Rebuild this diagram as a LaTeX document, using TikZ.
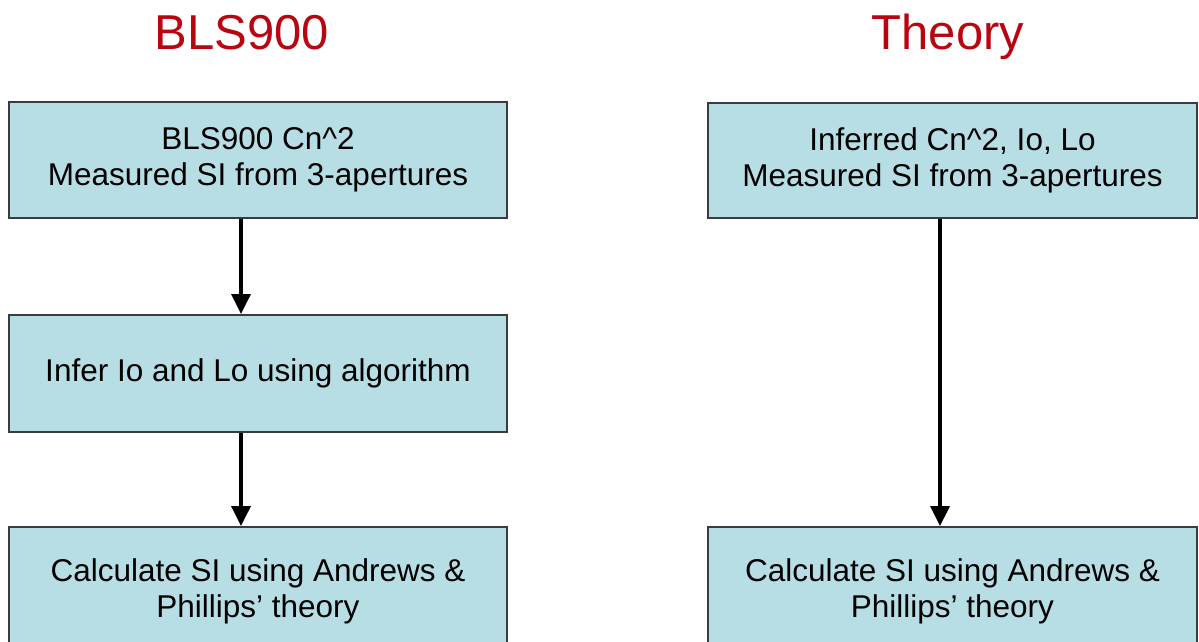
\documentclass[tikz,border=0pt]{standalone}
\usepackage{fontspec}
\setmainfont{Liberation Sans}
\usetikzlibrary{arrows.meta}
\definecolor{boxfill}{RGB}{183,222,228}
\definecolor{boxline}{RGB}{60,60,60}
\definecolor{titlered}{RGB}{185,5,15}
\begin{document}
\begin{tikzpicture}[x=1pt,y=1pt,
  stepbox/.style={draw=boxline, line width=1.8pt, fill=boxfill, rectangle, inner sep=0pt,
    minimum width=498pt, align=center, font=\fontsize{31.5}{36}\selectfont},
  title/.style={text=titlered, font=\fontsize{49}{55}\selectfont, anchor=base, inner sep=0pt},
  arr/.style={line width=3.2pt, -{Triangle[length=20pt,width=19pt]}}]
\useasboundingbox (0,0) rectangle (1199,-642);
\clip (0,0) rectangle (1199,-642);
\fill[white] (0,0) rectangle (1199,-642);
\node[title] (t1) at (242,-50) {BLS900};
\node[title] (t2) at (948,-50) {Theory};
\node[stepbox, minimum height=116pt] (b1) at (258,-160) {BLS900 Cn\textasciicircum2\\Measured SI from 3-apertures};
\node[stepbox, minimum height=117pt] (b2) at (258,-373.5) {Infer Io and Lo using algorithm};
\node[stepbox, minimum height=128pt] (b3) at (258,-591) {Calculate SI using Andrews \&\\Phillips' theory};
\node[stepbox, minimum width=489pt, minimum height=115pt] (r1) at (952.5,-160.5) {Inferred Cn\textasciicircum2, Io, Lo\\Measured SI from 3-apertures};
\node[stepbox, minimum width=489pt, minimum height=128pt] (r2) at (952.5,-591) {Calculate SI using Andrews \&\\Phillips' theory};
\draw[arr] ([xshift=-17pt]b1.south) -- ([xshift=-17pt]b2.north);
\draw[arr] ([xshift=-17pt]b2.south) -- ([xshift=-17pt]b3.north);
\draw[arr] ([xshift=-12.5pt]r1.south) -- ([xshift=-12.5pt]r2.north);
\end{tikzpicture}
\end{document}
